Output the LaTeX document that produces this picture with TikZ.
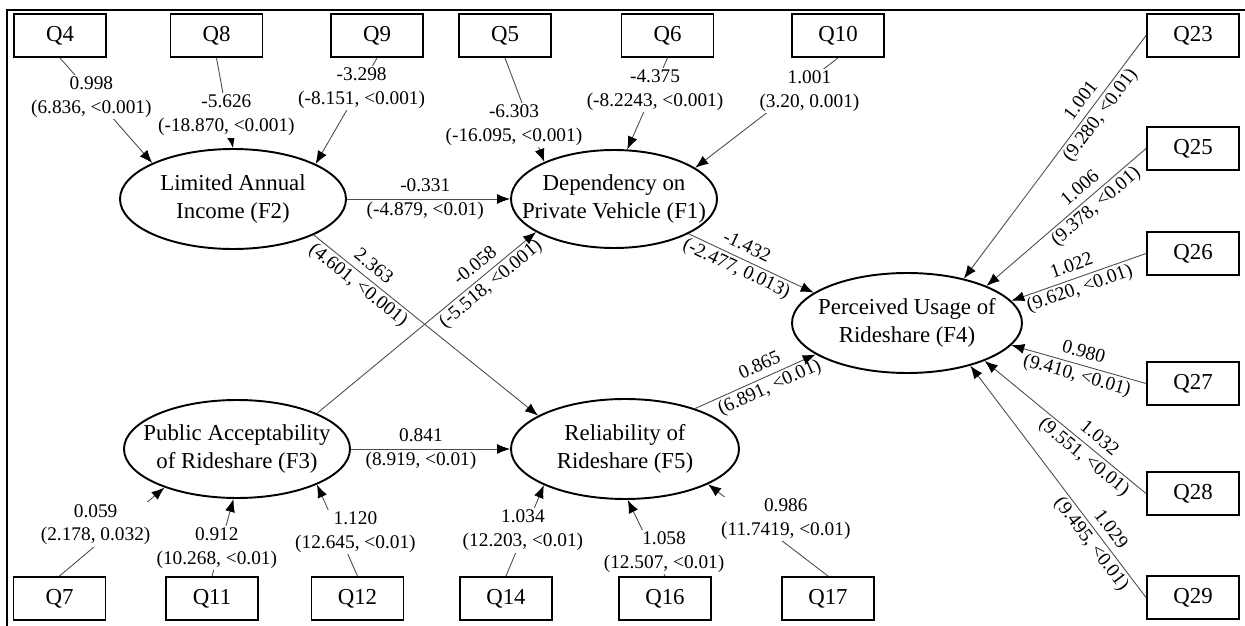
\documentclass[tikz,border=0pt]{standalone}
\usepackage{fontspec}
\setmainfont{Liberation Serif}
\usepackage{tikz}
\usetikzlibrary{arrows.meta,shapes.geometric}
\tikzset{
  % observed item: plain box, latent factor: ellipse with its name as a label
  item/.style   = {rectangle, draw, line width=1.1pt, minimum width=18.4mm,
                   minimum height=8.6mm, inner sep=0pt, font=\fontsize{13}{16}\selectfont},
  factor/.style = {ellipse, draw, line width=1.1pt, inner sep=0pt},
  ftxt/.style   = {align=center, font=\fontsize{13}{16}\selectfont},
  lnk/.style    = {-{Latex[length=2.6mm,width=2mm,color=black]}, black!70, line width=0.5pt},
  coef/.style   = {align=center, inner sep=1pt, text=black, font=\fontsize{11}{13.6}\selectfont},
  wcoef/.style  = {coef, fill=white, yshift=-0.7mm},
  scoef/.style  = {coef, sloped},
}

\begin{document}
\begin{tikzpicture}[x=0.2mm,y=-0.2mm]
\useasboundingbox (0,0) rectangle (1245,626);
% ---- frame ----------------------------------------------------------
\draw[line width=1.1pt] (7,626) -- (7,10) -- (1245,10);

% ---- factors --------------------------------------------------------
\node[factor, minimum width=45.2mm, minimum height=20mm,
      label={[ftxt]center:Limited Annual\\Income (F2)}] (F2) at (233,199) {};
\node[factor, minimum width=41.2mm, minimum height=19.6mm,
      label={[ftxt]center:Dependency on\\Private Vehicle (F1)}] (F1) at (614,199) {};
\node[factor, minimum width=45.2mm, minimum height=19.6mm,
      label={[ftxt]center:Public Acceptability\\of Rideshare (F3)}] (F3) at (237,449) {};
\node[factor, minimum width=45.6mm, minimum height=20mm,
      label={[ftxt]center:Reliability of\\Rideshare (F5)}] (F5) at (625,449) {};
\node[factor, minimum width=46mm, minimum height=20mm,
      label={[ftxt]center:Perceived Usage of\\Rideshare (F4)}] (F4) at (907,323) {};

% ---- items ----------------------------------------------------------
\foreach \q/\x/\y in {Q4/60/35.5, Q8/216.5/35.5, Q9/377/35.5, Q5/505/35.5,
                      Q6/667.5/35.5, Q10/838/35.5,
                      Q7/59.5/598.5, Q11/212/598.5, Q12/357.5/598.5,
                      Q14/506/598.5, Q16/665/598.5, Q17/828/598.5,
                      Q23/1193/35.5, Q25/1193/148.5, Q26/1193/253.5,
                      Q27/1193/383.5, Q28/1193/493.5, Q29/1193/597.5}
  \node[item] (\q) at (\x,\y) {\q};

% ---- loadings, top row ----------------------------------------------
\draw[lnk] (Q4.south) -- node[wcoef, pos=0.34] {0.998\\(6.836, <0.001)} (F2.156);
\draw[lnk] (Q8.south) -- node[wcoef, pos=0.6] {-5.626\\(-18.870, <0.001)} (F2.90);
\draw[lnk] (Q9.south) -- node[wcoef, pos=0.25] {-3.298\\(-8.151, <0.001)} (F2.23);
\draw[lnk] (Q5.south) -- node[wcoef, pos=0.61, xshift=-3mm] {-6.303\\(-16.095, <0.001)} (F1.152);
\draw[lnk] (Q6.south) -- node[wcoef, pos=0.31] {-4.375\\(-8.2243, <0.001)} (F1.75);
\draw[lnk] (Q10.south) -- node[wcoef, pos=0.27, xshift=2mm] {1.001\\(3.20, 0.001)} (F1.21);

% ---- loadings, bottom row -------------------------------------------
\draw[lnk] (Q7.north) -- node[wcoef, pos=0.62, xshift=-5.8mm] {0.059\\(2.178, 0.032)} (F3.208);
\draw[lnk] (Q11.north) -- node[wcoef, pos=0.41, xshift=-0.8mm] {0.912\\(10.268, <0.01)} (F3.266);
\draw[lnk] (Q12.north) -- node[wcoef, pos=0.52, xshift=3.8mm] {1.120\\(12.645, <0.01)} (F3.-24);
\draw[lnk] (Q14.north) -- node[wcoef, pos=0.54, xshift=-0.7mm] {1.034\\(12.203, <0.01)} (F5.204);
\draw[lnk] (Q16.north) -- node[wcoef, pos=0.36, xshift=2.5mm] {1.058\\(12.507, <0.01)} (F5.273);
\draw[lnk] (Q17.north) -- node[wcoef, pos=0.66, xshift=7.4mm] {0.986\\(11.7419, <0.01)} (F5.-23);

% ---- structural paths -----------------------------------------------
\draw[lnk] (F2.east) -- node[scoef, pos=0.48] {-0.331\\(-4.879, <0.01)} (F1.west);
\draw[lnk] (F2.-24) -- node[scoef, pos=0.23] {2.363\\(4.601, <0.001)} (F5.159);
\draw[lnk] (F3.24) -- node[scoef, pos=0.76] {-0.058\\(-5.518, <0.001)} (F1.-157);
\draw[lnk] (F3.east) -- node[scoef, pos=0.44] {0.841\\(8.919, <0.01)} (F5.west);
\draw[lnk] (F1.-25) -- node[scoef, pos=0.42] {-1.432\\(-2.477, 0.013)} (F4.162);
\draw[lnk] (F5.30) -- node[scoef, pos=0.58] {0.865\\(6.891, <0.01)} (F4.-161);

% ---- loadings, right column -----------------------------------------
\draw[lnk] (Q23.west) -- node[scoef, pos=0.3] {1.001\\(9.280, <0.01)} (F4.38);
\draw[lnk] (Q25.west) -- node[scoef, pos=0.36] {1.006\\(9.378, <0.01)} (F4.25);
\draw[lnk] (Q26.west) -- node[scoef, pos=0.52] {1.022\\(9.620, <0.01)} (F4.12);
\draw[lnk] (Q27.west) -- node[scoef, pos=0.49] {0.980\\(9.410, <0.01)} (F4.-12);
\draw[lnk] (Q28.west) -- node[scoef, pos=0.34] {1.032\\(9.551, <0.01)} (F4.-26);
\draw[lnk] (Q29.west) -- node[scoef, pos=0.26] {1.029\\(9.495, <0.01)} (F4.-34);
\end{tikzpicture}
\end{document}
